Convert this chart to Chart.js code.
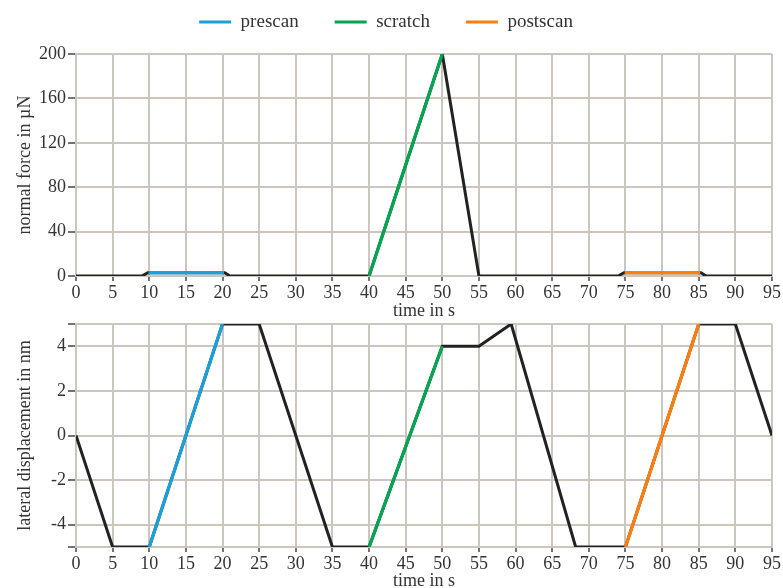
<!DOCTYPE html>
<html>
<head>
<meta charset="utf-8">
<script src="https://cdn.jsdelivr.net/npm/chart.js@4"></script>
<style>
  body { margin: 0; background: #fff; overflow: hidden; }
  .box { position: absolute; left: 0; width: 783px; }
  #top { top: 0; height: 322px; z-index: 2; }
  #bottom { top: 310px; height: 282px; z-index: 1; }
</style>
</head>
<body>
<div class="box" id="top"><canvas id="forceChart"></canvas></div>
<div class="box" id="bottom"><canvas id="dispChart"></canvas></div>
<script>
// time axis
const timeTicks = [0, 5, 10, 15, 20, 25, 30, 35, 40, 45, 50, 55, 60, 65, 70, 75, 80, 85, 90, 95];

// normal force (µN) vs time (s)
const forceTime = [0, 9, 9.8, 20.3, 21, 40, 50, 55, 74, 74.8, 85.3, 86, 95];
const forceVal = [0, 0, 3, 3, 0, 0, 200, 0, 0, 3, 3, 0, 0];
const forcePreTime = [9.9, 20.2];
const forcePreVal = [3, 3];
const forceScratchTime = [40, 50];
const forceScratchVal = [0, 200];
const forcePostTime = [74.9, 85.2];
const forcePostVal = [3, 3];
const forceTicks = [0, 40, 80, 120, 160, 200];

// lateral displacement (nm) vs time (s)
const dispTime = [0, 5, 10, 20, 25, 35, 40, 50, 55, 59.4, 68.2, 75, 85, 90, 95];
const dispVal = [0, -5, -5, 5, 5, -5, -5, 4, 4, 5, -5, -5, 5, 5, 0];
const dispPreTime = [10, 20];
const dispPreVal = [-5, 5];
const dispScratchTime = [40, 50];
const dispScratchVal = [-5, 4];
const dispPostTime = [75, 85];
const dispPostVal = [-5, 5];
const dispTicks = [-5, -4, -2, 0, 2, 4, 5];

const seriesNames = ['prescan', 'scratch', 'postscan'];
const seriesColors = ['#1ba1d9', '#00a651', '#ff7f0e'];

const gridColor = '#cbc7bf';
const textColor = '#333';
const fontFamily = '"Liberation Serif", "DejaVu Serif", serif';
const font = { family: fontFamily, size: 18 };

const pts = (xs, ys) => xs.map((x, i) => ({ x: x, y: ys[i] }));

// leave some room under the legend
const legendSpace = {
  id: 'legendSpace',
  beforeLayout(chart) {
    const lg = chart.legend;
    if (lg && !lg._extraSpace) {
      const fit = lg.fit;
      lg.fit = function () { fit.call(this); this.height += 12.5; };
      lg._extraSpace = true;
    }
  }
};

function makeSets(main, pre, scr, post) {
  const parts = [pre, scr, post];
  const sets = parts.map((p, i) => ({
    label: seriesNames[i],
    data: pts(p[0], p[1]),
    borderColor: seriesColors[i],
    backgroundColor: seriesColors[i],
    borderWidth: 3.2,
    pointRadius: 0,
    order: 1
  }));
  sets.push({
    label: '',
    data: pts(main[0], main[1]),
    borderColor: '#222',
    backgroundColor: '#222',
    borderWidth: 3,
    pointRadius: 0,
    order: 5
  });
  return sets;
}

function xScale(height) {
  return {
    type: 'linear', min: 0, max: 95,
    afterBuildTicks: s => { s.ticks = timeTicks.map(v => ({ value: v })); },
    afterFit: s => { s.height = height; },
    grid: { color: gridColor, lineWidth: 2, tickLength: 5, tickColor: '#444', tickWidth: 1.5 },
    border: { color: gridColor, width: 2 },
    ticks: { color: textColor, font: font, padding: 1, maxRotation: 0, autoSkip: false },
    title: { display: true, text: 'time in s', color: textColor, font: font, padding: 0 }
  };
}

function yScale(ticks, title, min, max, showTick) {
  return {
    min: min, max: max,
    afterBuildTicks: s => { s.ticks = ticks.map(v => ({ value: v })); },
    afterFit: s => { s.width = 76; },
    grid: { color: gridColor, lineWidth: 2, tickLength: 8, tickColor: '#444', tickWidth: 1.5 },
    border: { color: gridColor, width: 2 },
    ticks: { color: textColor, font: font, padding: 2, autoSkip: false,
             callback: v => showTick(v) ? String(v) : '' },
    title: { display: true, text: title, color: textColor, font: font, padding: { top: 14, bottom: 0 } }
  };
}

new Chart(document.getElementById('forceChart'), {
  type: 'line',
  data: { datasets: makeSets([forceTime, forceVal], [forcePreTime, forcePreVal], [forceScratchTime, forceScratchVal], [forcePostTime, forcePostVal]) },
  plugins: [legendSpace],
  options: {
    responsive: true, maintainAspectRatio: false, animation: false,
    layout: { padding: { left: 0, right: 11, top: -23.5, bottom: 0 } },
    plugins: {
      tooltip: { enabled: false },
      legend: {
        labels: {
          filter: item => item.text !== '',
          usePointStyle: true, pointStyle: 'line', pointStyleWidth: 32,
          color: textColor, font: { family: fontFamily, size: 19 }, padding: 36
        }
      }
    },
    scales: {
      x: xScale(46),
      y: yScale(forceTicks, 'normal force in µN', 0, 200, v => true)
    }
  }
});

new Chart(document.getElementById('dispChart'), {
  type: 'line',
  data: { datasets: makeSets([dispTime, dispVal], [dispPreTime, dispPreVal], [dispScratchTime, dispScratchVal], [dispPostTime, dispPostVal]) },
  options: {
    responsive: true, maintainAspectRatio: false, animation: false,
    layout: { padding: { left: 0, right: 11, top: 14, bottom: 0 } },
    plugins: { tooltip: { enabled: false }, legend: { display: false } },
    scales: {
      x: xScale(45),
      y: yScale(dispTicks, 'lateral displacement in nm', -5, 5, v => Math.abs(v) !== 5)
    }
  }
});
</script>
</body>
</html>
